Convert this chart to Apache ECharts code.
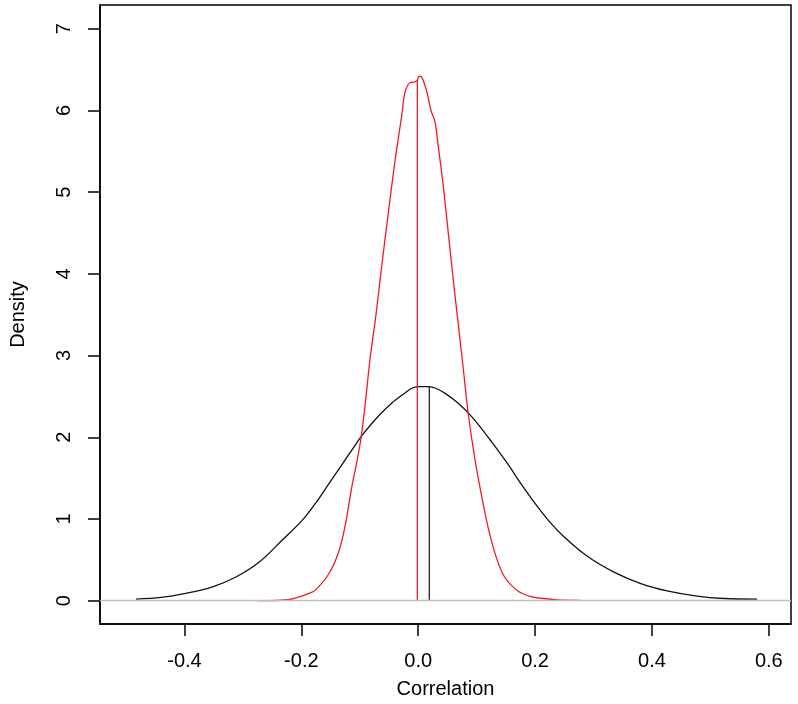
<!DOCTYPE html>
<html>
<head>
<meta charset="utf-8">
<script src="https://cdn.jsdelivr.net/npm/echarts@6/dist/echarts.min.js"></script>
<style>
html, body { margin: 0; padding: 0; background: #fff; }
#main { width: 798px; height: 704px; }
</style>
</head>
<body>
<div id="main"></div>
<script>
// density curves, [correlation, density]
var blackCurve = [
    [-0.483, 0.02], [-0.440, 0.04], [-0.398, 0.09], [-0.352, 0.17], [-0.312, 0.29],
    [-0.2725, 0.47], [-0.233, 0.74], [-0.199, 0.98], [-0.176, 1.19], [-0.153, 1.43],
    [-0.131, 1.66], [-0.111, 1.87], [-0.0965, 2.02], [-0.068, 2.26], [-0.045, 2.42],
    [-0.023, 2.54], [-0.011, 2.60], [0.0, 2.62], [0.019, 2.62], [0.030, 2.60],
    [0.0455, 2.54], [0.068, 2.42], [0.088, 2.28], [0.108, 2.11], [0.125, 1.95],
    [0.1535, 1.67], [0.176, 1.43], [0.199, 1.20], [0.222, 0.99], [0.250, 0.78],
    [0.290, 0.54], [0.335, 0.35], [0.381, 0.21], [0.426, 0.12], [0.477, 0.056],
    [0.523, 0.027], [0.580, 0.02]
];
var redCurve = [
    [-0.2754, 0.0], [-0.221, 0.015], [-0.187, 0.09], [-0.176, 0.13], [-0.153, 0.33],
    [-0.136, 0.60], [-0.125, 0.92], [-0.1135, 1.40], [-0.105, 1.70], [-0.0977, 2.00],
    [-0.0908, 2.40], [-0.0823, 2.97], [-0.0726, 3.48], [-0.0624, 4.10], [-0.0539, 4.59],
    [-0.0453, 5.08], [-0.0368, 5.53], [-0.0283, 5.93], [-0.0227, 6.22], [-0.0141, 6.34],
    [-0.0056, 6.35], [-0.0015, 6.37], [0.0012, 6.42], [0.0058, 6.41], [0.0143, 6.24],
    [0.0222, 5.99], [0.0285, 5.87], [0.0342, 5.57], [0.0428, 5.08], [0.0513, 4.51],
    [0.0598, 3.94], [0.0683, 3.40], [0.0768, 2.86], [0.0854, 2.30], [0.0966, 1.75],
    [0.108, 1.30], [0.1195, 0.90], [0.1336, 0.53], [0.1478, 0.29], [0.1706, 0.12],
    [0.193, 0.05], [0.210, 0.03], [0.240, 0.01], [0.2785, 0.005]
];
// vertical marks: [x, height]
var redMark = [-0.0015, 6.37];
var blackMark = [0.019, 2.62];

var xTicks = [-0.4, -0.2, 0.0, 0.2, 0.4, 0.6];
var yTicks = [0, 1, 2, 3, 4, 5, 6, 7];

var dom = document.getElementById("main");
var myChart = echarts.init(dom);

var font = '"Liberation Sans", Arial, sans-serif';

var option = {
    animation: false,
    backgroundColor: '#fff',
    grid: {
        left: 97, right: 7, top: 5, bottom: 77,
        show: true,
        borderColor: '#000',
        borderWidth: 1.5,
        backgroundColor: 'transparent'
    },
    xAxis: {
        type: 'value',
        min: -0.5446,
        max: 0.638,
        name: 'Correlation',
        nameLocation: 'middle',
        nameGap: 55,
        nameTextStyle: { color: '#000', fontSize: 20, fontFamily: font },
        axisLine: { show: true, onZero: false, lineStyle: { color: '#000', width: 1.5 } },
        axisTick: { show: true, customValues: xTicks, length: 12, lineStyle: { color: '#000', width: 1.5 } },
        axisLabel: {
            customValues: xTicks,
            margin: 27,
            color: '#000',
            fontSize: 20,
            fontFamily: font,
            formatter: function (v) { return v.toFixed(1); }
        },
        splitLine: { show: false }
    },
    yAxis: {
        type: 'value',
        min: -0.285,
        max: 7.29,
        name: 'Density',
        nameLocation: 'middle',
        nameRotate: 90,
        nameGap: 72,
        nameTextStyle: { color: '#000', fontSize: 20, fontFamily: font },
        axisLine: { show: true, onZero: false, lineStyle: { color: '#000', width: 1.5 } },
        axisTick: { show: true, customValues: yTicks, length: 12, lineStyle: { color: '#000', width: 1.5 } },
        axisLabel: {
            customValues: yTicks,
            rotate: 90,
            margin: 26,
            color: '#000',
            fontSize: 20,
            fontFamily: font
        },
        splitLine: { show: false }
    },
    series: [
        {
            type: 'line',
            data: blackCurve,
            symbol: 'none',
            smooth: 0.35,
            lineStyle: { color: '#111', width: 1.3 },
            markLine: {
                silent: true,
                symbol: 'none',
                label: { show: false },
                lineStyle: { color: '#bebebe', width: 1.3, type: 'solid' },
                data: [{ yAxis: 0 }]
            },
            z: 3
        },
        {
            type: 'line',
            data: redCurve,
            symbol: 'none',
            smooth: 0.3,
            lineStyle: { color: '#ee1c25', width: 1.3 },
            z: 4
        },
        {
            type: 'line',
            data: [[redMark[0], 0], redMark],
            symbol: 'none',
            lineStyle: { color: '#ee1c25', width: 1.3 },
            z: 4
        },
        {
            type: 'line',
            data: [[blackMark[0], 0], blackMark],
            symbol: 'none',
            lineStyle: { color: '#222', width: 1.3 },
            z: 3
        }
    ]
};

if (option && typeof option === "object") {
    myChart.setOption(option, true);
}
</script>
</body>
</html>
